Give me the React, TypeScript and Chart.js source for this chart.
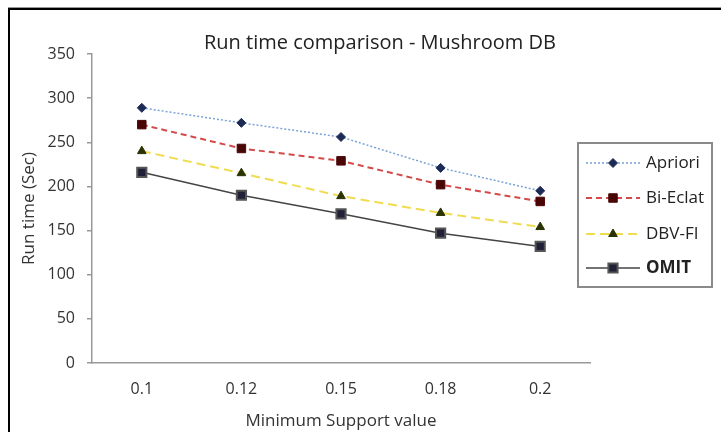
import React, { useEffect, useRef } from "react";
import { Chart, registerables } from "chart.js";

Chart.register(...registerables);

const categories = ["0.1", "0.12", "0.15", "0.18", "0.2"];
const apriori = [289, 272, 256, 221, 195];
const biEclat = [270, 243, 229, 202, 183];
const dbvFi = [240, 215, 189, 170, 154];
const omit = [216, 190, 169, 147, 132];

const chartTitle = "Run time comparison - Mushroom DB";
const xTitle = "Minimum Support value";
const yTitle = "Run time (Sec)";
const yMin = 0;
const yMax = 350;
const yStep = 50;

const FONT = "'Open Sans', Lato, sans-serif";

function drawMarker(ctx: CanvasRenderingContext2D, style: string, r: number, x: number, y: number) {
  ctx.beginPath();
  if (style === "rectRot") {
    ctx.moveTo(x, y - r);
    ctx.lineTo(x + r, y);
    ctx.lineTo(x, y + r);
    ctx.lineTo(x - r, y);
    ctx.closePath();
  } else if (style === "rect") {
    const s = r * Math.SQRT1_2;
    ctx.rect(x - s, y - s, 2 * s, 2 * s);
  } else if (style === "triangle") {
    ctx.moveTo(x, y - r);
    ctx.lineTo(x + r * 0.866, y + r * 0.5);
    ctx.lineTo(x - r * 0.866, y + r * 0.5);
    ctx.closePath();
  }
  ctx.fill();
  ctx.stroke();
}

const decorPlugin = {
  id: "customDecor",
  afterDraw(chart: any) {
    const ctx = chart.ctx as CanvasRenderingContext2D;
    ctx.save();
    ctx.fillStyle = "#222";
    ctx.font = `20px ${FONT}`;
    ctx.textAlign = "center";
    ctx.textBaseline = "middle";
    ctx.fillText(chartTitle, 380, 43);

    const bx = 578, by = 143, bw = 134, bh = 144;
    ctx.strokeStyle = "#8a8a8a";
    ctx.lineWidth = 2;
    ctx.strokeRect(bx, by, bw, bh);

    const rows = [163, 198, 234, 268];
    chart.data.datasets.forEach((ds: any, i: number) => {
      const y = rows[i];
      ctx.save();
      ctx.strokeStyle = ds.borderColor;
      ctx.lineWidth = ds.borderWidth;
      ctx.setLineDash(ds.borderDash || []);
      ctx.beginPath();
      ctx.moveTo(586, y);
      ctx.lineTo(640, y);
      ctx.stroke();
      ctx.restore();
      ctx.save();
      ctx.setLineDash([]);
      ctx.fillStyle = ds.pointBackgroundColor;
      ctx.strokeStyle = ds.pointBorderColor;
      ctx.lineWidth = ds.pointBorderWidth;
      drawMarker(ctx, ds.pointStyle, ds.pointRadius, 613, y);
      ctx.restore();
      ctx.fillStyle = "#222";
      ctx.font = `${i === 3 ? "bold " : ""}17px ${FONT}`;
      ctx.textAlign = "left";
      ctx.textBaseline = "middle";
      ctx.fillText(ds.label, 646, y);
    });
    ctx.restore();
  },
};

export default function App() {
  const ref = useRef<HTMLCanvasElement | null>(null);
  useEffect(() => {
    if (!ref.current) return;
    const chart = new Chart(ref.current, {
      type: "line",
      data: {
        labels: categories,
        datasets: [
          {
            label: "Apriori",
            data: apriori,
            borderColor: "#7aa3d6",
            borderWidth: 1.5,
            borderDash: [2, 2],
            pointStyle: "rectRot",
            pointRadius: 4.5,
            pointBackgroundColor: "#1c2b55",
            pointBorderColor: "#1c2b55",
            pointBorderWidth: 1,
          },
          {
            label: "Bi-Eclat",
            data: biEclat,
            borderColor: "#d44a4a",
            borderWidth: 2,
            borderDash: [6, 4],
            pointStyle: "rect",
            pointRadius: 6,
            pointBackgroundColor: "#4a0606",
            pointBorderColor: "#4a0606",
            pointBorderWidth: 1,
          },
          {
            label: "DBV-FI",
            data: dbvFi,
            borderColor: "#f0dc50",
            borderWidth: 2,
            borderDash: [9, 5],
            pointStyle: "triangle",
            pointRadius: 5,
            pointBackgroundColor: "#2a3300",
            pointBorderColor: "#2a3300",
            pointBorderWidth: 1,
          },
          {
            label: "OMIT",
            data: omit,
            borderColor: "#454545",
            borderWidth: 1.5,
            borderDash: [],
            pointStyle: "rect",
            pointRadius: 6.5,
            pointBackgroundColor: "#202038",
            pointBorderColor: "#555",
            pointBorderWidth: 2,
          },
        ],
      },
      options: {
        animation: false,
        responsive: false,
        maintainAspectRatio: false,
        layout: { padding: { left: 12, top: 54, right: 131, bottom: 0 } },
        plugins: {
          legend: { display: false },
          title: { display: false },
          tooltip: { enabled: false },
        },
        elements: { line: { tension: 0 } },
        scales: {
          x: {
            offset: true,
            grid: { display: false, drawTicks: false },
            border: { color: "#999", width: 1.5 },
            ticks: { color: "#333", font: { family: FONT, size: 16 }, padding: 17 },
            title: {
              display: true,
              text: xTitle,
              color: "#333",
              font: { family: FONT, size: 17 },
              padding: { top: 0, bottom: 1 },
            },
            afterFit: (s: any) => {
              s.height = 69;
            },
          },
          y: {
            min: yMin,
            max: yMax,
            grid: { drawOnChartArea: false, tickLength: 5, color: "#999", lineWidth: 1.5 },
            border: { color: "#999", width: 1.5 },
            ticks: { stepSize: yStep, color: "#333", font: { family: FONT, size: 16 }, padding: 12 },
            title: {
              display: true,
              text: yTitle,
              color: "#333",
              font: { family: FONT, size: 17 },
              padding: { top: 7, bottom: 0 },
            },
            afterFit: (s: any) => {
              s.width = 80;
            },
          },
        },
      },
      plugins: [decorPlugin],
    });
    return () => chart.destroy();
  }, []);

  return (
    <div style={{ position: "fixed", left: 0, top: 0, width: 721, height: 432, background: "#fff" }}>
      <canvas ref={ref} width={721} height={432} style={{ position: "absolute", left: 0, top: 0 }} />
      <div
        style={{
          position: "absolute",
          left: 8,
          top: 8,
          width: 713,
          height: 424,
          borderLeft: "2px solid #000",
          borderTop: "2px solid #000",
          boxShadow: "0 -1px 0 #999",
          pointerEvents: "none",
        }}
      />
    </div>
  );
}
